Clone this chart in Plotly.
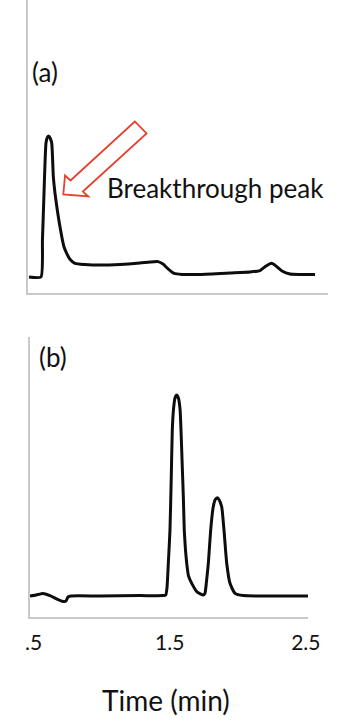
import plotly.graph_objects as go

# ---------------- data ----------------
# Panel (a): chromatogram with breakthrough peak (time in min, signal in arbitrary units)
time_a = [0.466, 0.554, 0.565, 0.576, 0.591, 0.602, 0.611, 0.621, 0.633, 0.645,
          0.657, 0.674, 0.689, 0.707, 0.723, 0.743, 0.767, 0.804, 0.878, 0.988,
          1.135, 1.282, 1.355, 1.414, 1.451, 1.488, 1.532, 1.590, 1.723, 1.943,
          2.090, 2.164, 2.208, 2.249, 2.281, 2.325, 2.384, 2.457, 2.568]
signal_a = [0.0, 0.0, 26.2, 58.2, 95.0, 99.3, 100.0, 98.6, 95.0, 71.1,
            59.6, 47.5, 38.3, 28.6, 21.5, 16.8, 12.6, 9.7, 8.9, 8.5,
            8.9, 9.9, 10.6, 10.9, 9.2, 5.7, 2.5, 1.8, 1.8, 2.8,
            3.5, 4.6, 7.8, 9.7, 7.8, 4.3, 2.1, 1.8, 1.8]

# Panel (b): two resolved peaks
time_b = [0.474, 0.518, 0.569, 0.620, 0.672, 0.716, 0.738, 0.753, 0.775, 0.988,
          1.282, 1.451, 1.471, 1.480, 1.490, 1.502, 1.511, 1.519, 1.528, 1.539,
          1.551, 1.564, 1.576, 1.583, 1.592, 1.600, 1.607, 1.616, 1.625, 1.638,
          1.662, 1.701, 1.747, 1.759, 1.770, 1.784, 1.801, 1.820, 1.835, 1.850,
          1.864, 1.882, 1.899, 1.919, 1.943, 1.980, 2.041, 2.237, 2.516]
signal_b = [0.0, 0.5, 1.3, 0.2, -1.5, -2.7, -2.5, -0.5, 0.0, 0.0,
            0.2, 0.2, 0.5, 4.0, 16.4, 32.8, 57.7, 82.6, 93.0, 98.5,
            100.0, 98.5, 93.0, 82.6, 65.0, 49.9, 32.8, 22.9, 16.4, 10.0,
            6.3, 2.0, 0.5, 1.3, 7.0, 16.3, 32.8, 44.4, 48.0, 48.9,
            47.8, 44.4, 32.8, 16.3, 6.3, 1.3, 0.2, 0.0, 0.0]

tick_vals = [0.5, 1.5, 2.5]
tick_text = [".5", "1.5", "2.5"]

# hollow annotation arrow outline (panel a, data coordinates)
arrow_t = [0.718, 0.731, 0.771, 1.244, 1.330, 0.862, 0.902]
arrow_v = [58.5, 72.0, 68.5, 110.3, 101.8, 60.6, 57.1]

# ---------------- figure ----------------
W, H = 350, 722
FONT = "Lato"
TEXT_COLOR = "#111111"
AXIS_COLOR = "#c9c9c9"
LINE = dict(color="#0d0d0d", width=3, shape="spline", smoothing=0.5)

fig = go.Figure()
fig.add_trace(go.Scatter(x=time_a, y=signal_a, mode="lines", line=LINE,
                         xaxis="x", yaxis="y", showlegend=False, hoverinfo="skip"))
fig.add_trace(go.Scatter(x=time_b, y=signal_b, mode="lines", line=LINE,
                         xaxis="x2", yaxis="y2", showlegend=False, hoverinfo="skip"))

path = "M " + " L ".join(f"{t},{v}" for t, v in zip(arrow_t, arrow_v)) + " Z"
fig.add_shape(type="path", path=path, xref="x", yref="y",
              line=dict(color="#e3402e", width=1.8), fillcolor="rgba(255,255,255,0)")

fig.add_annotation(text="Breakthrough peak", xref="x", yref="y", x=1.025, y=63.1,
                   xanchor="left", yanchor="middle", showarrow=False,
                   font=dict(family=FONT, size=26, color=TEXT_COLOR))
fig.add_annotation(text="(a)", xref="paper", yref="paper", x=44.5 / W, y=(H - 72.5) / H,
                   xanchor="center", yanchor="middle", showarrow=False,
                   font=dict(family=FONT, size=26, color=TEXT_COLOR))
fig.add_annotation(text="(b)", xref="paper", yref="paper", x=52.5 / W, y=(H - 357) / H,
                   xanchor="center", yanchor="middle", showarrow=False,
                   font=dict(family=FONT, size=26, color=TEXT_COLOR))
fig.add_annotation(text="Time (min)", xref="paper", yref="paper", x=165.5 / W, y=(H - 700) / H,
                   xanchor="center", yanchor="middle", showarrow=False,
                   font=dict(family=FONT, size=28, color=TEXT_COLOR))

common_axis = dict(showline=True, linecolor=AXIS_COLOR, linewidth=2, showgrid=False,
                   zeroline=False, fixedrange=True, automargin=False)

fig.update_layout(
    width=W, height=H, autosize=False,
    margin=dict(l=0, r=0, t=0, b=0, pad=0, autoexpand=False),
    paper_bgcolor="white", plot_bgcolor="white",
    font=dict(family=FONT, color=TEXT_COLOR),
    xaxis=dict(domain=[28 / W, 328 / W], range=[0.4588, 2.6631], anchor="y",
               showticklabels=False, ticks="", **common_axis),
    yaxis=dict(domain=[(H - 293) / H, 1.0], range=[-11.35, 196.45], anchor="x",
               showticklabels=False, ticks="", **common_axis),
    xaxis2=dict(domain=[30 / W, 308 / W], range=[0.4735, 2.5162], anchor="y2",
                tickmode="array", tickvals=tick_vals, ticktext=tick_text,
                ticks="outside", ticklen=6, tickcolor="rgba(0,0,0,0)",
                tickfont=dict(family=FONT, size=21, color=TEXT_COLOR),
                **common_axis),
    yaxis2=dict(domain=[(H - 616.7) / H, (H - 336.7) / H], range=[-10.3, 129.0],
                anchor="x2", showticklabels=False, ticks="", **common_axis),
)

fig.write_html("out.html")
